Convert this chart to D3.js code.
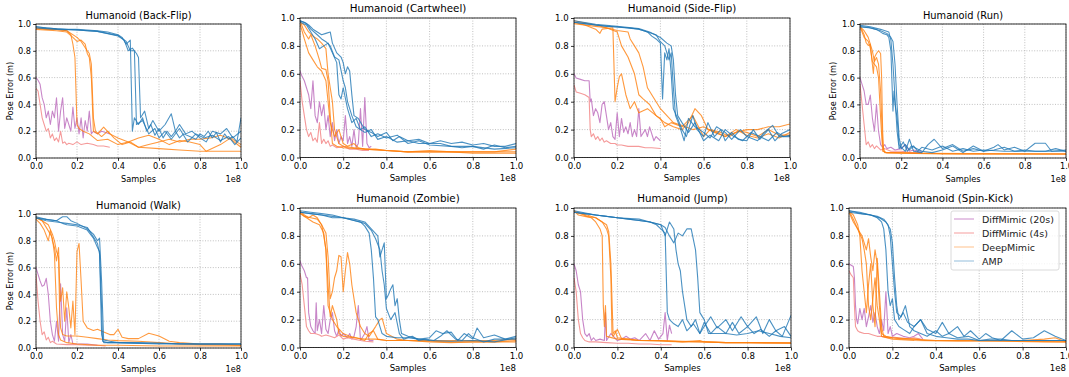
<!DOCTYPE html>
<html><head><meta charset="utf-8">
<script src="https://cdn.jsdelivr.net/npm/d3@7"></script>
<style>body{margin:0;background:#fff}svg{display:block}text{font-family:"DejaVu Sans",sans-serif}</style>
</head><body><svg id="c" width="1069" height="377"></svg>
<script>
const XTICKS=[0,0.2,0.4,0.6,0.8,1.0];
const YTICKS=[0,0.2,0.4,0.6,0.8,1.0];
const SERIES=["DiffMimic (20s)","DiffMimic (4s)","DeepMimic","AMP"];
const TITLES=["Humanoid (Back-Flip)","Humanoid (Cartwheel)","Humanoid (Side-Flip)","Humanoid (Run)","Humanoid (Walk)","Humanoid (Zombie)","Humanoid (Jump)","Humanoid (Spin-Kick)"];

// ---- Back-Flip ----
const BACKFLIP_DIFF20=[[0,.6],[.01,.58],[.02,.55],[.03,.45],[.04,.4],[.05,.3],[.06,.35],[.07,.25],[.08,.35],[.09,.3],[.1,.45],[.11,.2],[.12,.35],[.13,.45],[.14,.22],[.15,.3],[.16,.25],[.17,.2],[.18,.38],[.19,.22],[.2,.3],[.21,.18],[.22,.3],[.23,.15],[.24,.28],[.25,.2],[.26,.35],[.27,.18],[.28,.2],[.3,.18],[.32,.2],[.34,.19],[.36,.18]];
const BACKFLIP_DIFF4=[[0,.52],[.01,.5],[.02,.4],[.03,.3],[.04,.25],[.05,.2],[.06,.22],[.07,.15],[.08,.18],[.09,.13],[.1,.15],[.11,.12],[.12,.2],[.13,.11],[.14,.12],[.15,.1],[.16,.11],[.18,.1],[.2,.12],[.22,.1],[.25,.11],[.28,.1],[.3,.09],[.33,.09],[.36,.08]];
const BACKFLIP_DEEP=[
[[0,.97],[.05,.96],[.1,.96],[.15,.95],[.17,.92],[.18,.85],[.19,.75],[.2,.25],[.21,.22],[.23,.2],[.26,.18],[.3,.13],[.35,.14],[.4,.1],[.45,.12],[.5,.08],[.6,.07],[.7,.06],[.8,.05],[.9,.05],[1,.05]],
[[0,.96],[.1,.95],[.15,.94],[.18,.9],[.2,.87],[.22,.88],[.24,.85],[.25,.78],[.26,.75],[.27,.6],[.28,.2],[.3,.18],[.33,.23],[.36,.18],[.4,.15],[.45,.12],[.5,.15],[.55,.17],[.6,.14],[.65,.1],[.7,.13],[.75,.12],[.8,.1],[.83,.05],[.9,.1],[.95,.15],[1,.1]],
[[0,.97],[.1,.96],[.15,.95],[.2,.9],[.22,.87],[.25,.8],[.26,.78],[.27,.7],[.28,.3],[.29,.2],[.32,.16],[.35,.2],[.38,.15],[.42,.1],[.46,.12],[.5,.08],[.55,.1],[.6,.12],[.65,.14],[.7,.12],[.75,.14],[.8,.14],[.85,.15],[.9,.17],[.95,.14],[1,.08]]];
const BACKFLIP_AMP=[
[[0,.98],[.05,.97],[.1,.965],[.15,.96],[.2,.96],[.25,.955],[.3,.95],[.35,.94],[.4,.92],[.42,.9],[.44,.85],[.46,.88],[.47,.2],[.48,.3],[.5,.25],[.52,.3],[.54,.2],[.56,.25],[.58,.17],[.6,.22],[.62,.15],[.64,.2],[.66,.16],[.68,.2],[.7,.15],[.72,.18],[.75,.16],[.78,.14],[.8,.18],[.82,.16],[.84,.2],[.86,.15],[.88,.19],[.9,.12],[.92,.18],[.94,.14],[.96,.16],[.98,.12],[1,.3]],
[[0,.98],[.1,.965],[.2,.955],[.3,.945],[.4,.91],[.43,.88],[.45,.8],[.47,.82],[.49,.78],[.5,.75],[.51,.3],[.53,.35],[.55,.22],[.57,.28],[.6,.2],[.63,.25],[.66,.33],[.68,.2],[.7,.25],[.73,.18],[.76,.2],[.8,.15],[.83,.12],[.86,.2],[.9,.18],[.93,.22],[.96,.15],[1,.2]],
[[0,.97],[.1,.96],[.2,.955],[.3,.945],[.4,.915],[.44,.87],[.46,.8],[.48,.8],[.49,.25],[.52,.28],[.55,.18],[.58,.22],[.6,.15],[.63,.2],[.66,.14],[.7,.22],[.74,.12],[.78,.18],[.82,.15],[.86,.17],[.9,.13],[.94,.16],[.97,.1],[1,.15]]];

// ---- Cartwheel ----
const CARTWHEEL_DIFF20=[[0,.62],[.01,.58],[.02,.55],[.03,.5],[.04,.45],[.05,.35],[.06,.55],[.07,.3],[.08,.25],[.09,.4],[.1,.3],[.11,.38],[.12,.2],[.13,.3],[.14,.15],[.15,.25],[.16,.12],[.17,.2],[.18,.1],[.19,.15],[.2,.12],[.21,.3],[.22,.1],[.23,.15],[.24,.08],[.25,.2],[.26,.07],[.27,.1],[.28,.35],[.29,.08],[.3,.43],[.31,.1],[.32,.07],[.33,.08]];
const CARTWHEEL_DIFF4=[[0,.55],[.01,.4],[.02,.3],[.03,.2],[.04,.15],[.05,.18],[.06,.12],[.07,.14],[.08,.11],[.09,.25],[.1,.1],[.11,.13],[.12,.1],[.13,.12],[.14,.08],[.15,.09],[.17,.07],[.2,.08],[.23,.06],[.26,.06],[.29,.05],[.32,.05]];
const CARTWHEEL_DEEP=[
[[0,.98],[.02,.9],[.04,.85],[.05,.88],[.07,.8],[.09,.7],[.1,.64],[.12,.63],[.13,.55],[.14,.3],[.15,.1],[.17,.08],[.2,.07],[.3,.06],[.4,.05],[.5,.04],[.6,.04],[.7,.04],[.8,.03],[.9,.03],[1,.03]],
[[0,.97],[.02,.95],[.04,.9],[.06,.87],[.08,.85],[.1,.82],[.12,.78],[.13,.6],[.14,.5],[.15,.4],[.16,.2],[.18,.1],[.2,.08],[.25,.07],[.3,.06],[.4,.05],[.5,.04],[.6,.05],[.7,.04],[.8,.04],[1,.04]],
[[0,.96],[.02,.85],[.04,.75],[.06,.7],[.08,.65],[.1,.62],[.12,.55],[.13,.4],[.14,.25],[.16,.15],[.18,.2],[.2,.1],[.22,.08],[.25,.1],[.27,.07],[.3,.06],[.35,.06],[.4,.05],[.5,.04],[.6,.04],[.7,.04],[.8,.04],[.9,.04],[1,.06]]];
const CARTWHEEL_AMP=[
[[0,.98],[.02,.97],[.04,.95],[.06,.92],[.08,.9],[.1,.88],[.12,.89],[.14,.9],[.15,.82],[.17,.75],[.19,.72],[.2,.68],[.21,.6],[.22,.65],[.23,.62],[.24,.45],[.25,.3],[.27,.28],[.3,.2],[.33,.18],[.36,.15],[.4,.18],[.43,.12],[.46,.15],[.5,.12],[.55,.13],[.6,.1],[.65,.12],[.7,.1],[.75,.11],[.8,.09],[.85,.1],[.9,.08],[.95,.08],[1,.1]],
[[0,.97],[.03,.95],[.05,.9],[.07,.85],[.09,.78],[.11,.8],[.13,.82],[.15,.75],[.17,.68],[.18,.45],[.19,.42],[.2,.5],[.22,.35],[.24,.25],[.26,.28],[.28,.2],[.3,.22],[.33,.15],[.36,.17],[.4,.14],[.45,.16],[.5,.1],[.55,.12],[.6,.09],[.7,.08],[.8,.08],[.85,.06],[.9,.09],[.95,.07],[1,.08]],
[[0,.98],[.03,.96],[.05,.92],[.08,.88],[.1,.85],[.12,.83],[.14,.8],[.16,.72],[.18,.7],[.2,.55],[.21,.5],[.22,.4],[.24,.3],[.26,.22],[.28,.2],[.3,.18],[.33,.2],[.36,.13],[.4,.15],[.45,.11],[.5,.12],[.55,.1],[.6,.1],[.65,.1],[.7,.08],[.75,.07],[.8,.08],[.9,.06],[1,.07]]];

// ---- Side-Flip ----
const SIDEFLIP_DIFF20=[[0,.6],[.01,.57],[.03,.56],[.05,.55],[.07,.55],[.075,.4],[.08,.42],[.09,.3],[.1,.35],[.11,.32],[.12,.25],[.13,.38],[.14,.4],[.15,.3],[.16,.2],[.17,.25],[.18,.15],[.19,.13],[.2,.32],[.21,.15],[.22,.28],[.23,.18],[.24,.22],[.25,.17],[.26,.25],[.27,.15],[.28,.2],[.29,.15],[.3,.35],[.31,.15],[.33,.2],[.34,.15],[.35,.22],[.37,.12],[.38,.15],[.4,.12]];
const SIDEFLIP_DIFF4=[[0,.52],[.01,.47],[.03,.46],[.05,.45],[.07,.43],[.075,.2],[.08,.15],[.09,.17],[.1,.13],[.11,.15],[.12,.12],[.13,.14],[.14,.11],[.15,.12],[.17,.1],[.19,.1],[.2,.09],[.22,.09],[.25,.08],[.28,.08],[.3,.08],[.33,.07],[.36,.07],[.4,.065]];
const SIDEFLIP_DEEP=[
[[0,.97],[.05,.95],[.1,.92],[.12,.89],[.13,.92],[.18,.93],[.19,.4],[.2,.5],[.21,.58],[.22,.6],[.24,.45],[.26,.35],[.28,.4],[.3,.32],[.34,.35],[.38,.3],[.42,.25],[.46,.22],[.5,.2],[.53,.25],[.56,.35],[.59,.3],[.62,.2],[.66,.18],[.7,.15],[.75,.18],[.8,.2],[.85,.2],[.9,.22],[.95,.22],[1,.24]],
[[0,.96],[.1,.94],[.15,.93],[.2,.9],[.22,.8],[.25,.72],[.28,.6],[.3,.45],[.32,.42],[.35,.38],[.38,.3],[.4,.28],[.42,.22],[.45,.25],[.5,.22],[.55,.3],[.6,.15],[.63,.2],[.68,.18],[.72,.15],[.76,.19],[.8,.18],[.85,.15],[.9,.2],[.95,.16],[1,.16]],
[[0,.98],[.1,.95],[.15,.93],[.2,.91],[.25,.9],[.26,.85],[.28,.8],[.3,.75],[.32,.65],[.34,.5],[.36,.45],[.38,.4],[.4,.35],[.43,.3],[.46,.25],[.5,.23],[.55,.2],[.6,.22],[.65,.18],[.7,.15],[.75,.2],[.8,.16],[.85,.14],[.9,.17],[.95,.14],[1,.18]]];
const SIDEFLIP_AMP=[
[[0,.97],[.05,.96],[.1,.95],[.15,.94],[.2,.935],[.25,.93],[.3,.92],[.32,.91],[.34,.9],[.36,.87],[.38,.85],[.4,.82],[.41,.42],[.42,.75],[.43,.7],[.44,.78],[.45,.6],[.46,.35],[.48,.28],[.5,.2],[.52,.15],[.55,.3],[.57,.2],[.6,.15],[.62,.25],[.65,.15],[.68,.2],[.7,.12],[.73,.18],[.76,.13],[.8,.12],[.83,.2],[.86,.13],[.9,.2],[.93,.12],[.96,.17],[1,.2]],
[[0,.97],[.1,.95],[.2,.935],[.3,.92],[.34,.9],[.38,.88],[.4,.83],[.42,.8],[.44,.7],[.45,.75],[.46,.5],[.47,.3],[.49,.22],[.51,.12],[.53,.28],[.56,.22],[.6,.18],[.63,.14],[.66,.22],[.7,.18],[.73,.13],[.77,.2],[.8,.15],[.85,.12],[.88,.18],[.92,.23],[.95,.15],[1,.15]],
[[0,.98],[.1,.955],[.2,.94],[.3,.925],[.35,.9],[.4,.86],[.43,.82],[.45,.8],[.46,.7],[.47,.45],[.48,.3],[.5,.25],[.53,.18],[.56,.25],[.6,.12],[.63,.16],[.67,.12],[.7,.2],[.74,.15],[.78,.12],[.82,.18],[.86,.15],[.9,.12],[.94,.18],[.97,.15],[1,.16]]];

// ---- Run ----
const RUN_DIFF20=[[0,.6],[.01,.55],[.02,.5],[.03,.4],[.04,.4],[.05,.47],[.06,.3],[.07,.2],[.08,.4],[.09,.2],[.1,.1],[.11,.08],[.12,.1],[.13,.07],[.15,.08],[.17,.06],[.2,.07],[.22,.1],[.24,.05],[.26,.06],[.28,.05],[.3,.05]];
const RUN_DIFF4=[[0,.55],[.01,.4],[.02,.25],[.03,.1],[.04,.12],[.05,.08],[.06,.1],[.07,.07],[.08,.09],[.1,.06],[.12,.07],[.15,.05],[.18,.05],[.2,.05],[.25,.04],[.3,.04]];
const RUN_DEEP=[
[[0,.99],[.02,.92],[.03,.86],[.04,.84],[.05,.85],[.06,.7],[.065,.63],[.07,.75],[.08,.78],[.09,.8],[.1,.78],[.105,.6],[.11,.2],[.115,.05],[.13,.04],[.2,.04],[.3,.035],[.5,.03],[.7,.03],[1,.03]],
[[0,.98],[.02,.95],[.04,.9],[.06,.8],[.07,.72],[.08,.75],[.09,.7],[.1,.5],[.11,.1],[.12,.04],[.2,.035],[.4,.03],[1,.03]],
[[0,.98],[.02,.9],[.04,.87],[.05,.82],[.06,.72],[.07,.7],[.08,.68],[.09,.6],[.1,.3],[.11,.05],[.13,.04],[.3,.035],[1,.03]]];
const RUN_AMP=[
[[0,.98],[.04,.975],[.08,.96],[.11,.93],[.13,.92],[.14,.9],[.15,.8],[.16,.35],[.165,.5],[.17,.4],[.18,.3],[.19,.1],[.2,.07],[.22,.1],[.24,.06],[.26,.09],[.28,.05],[.3,.08],[.35,.06],[.4,.09],[.45,.05],[.5,.07],[.55,.05],[.6,.06],[.7,.05],[.8,.05],[.9,.05],[1,.05]],
[[0,.98],[.05,.97],[.1,.95],[.13,.93],[.15,.9],[.16,.87],[.17,.7],[.18,.4],[.19,.15],[.2,.08],[.22,.05],[.24,.14],[.26,.05],[.3,.04],[.33,.1],[.36,.14],[.4,.07],[.45,.1],[.5,.05],[.55,.07],[.6,.05],[.65,.08],[.67,.1],[.7,.06],[.75,.08],[.8,.05],[.85,.11],[.9,.11],[.93,.05],[1,.06]],
[[0,.99],[.05,.98],[.1,.96],[.14,.94],[.15,.88],[.16,.7],[.17,.45],[.18,.2],[.19,.07],[.21,.12],[.23,.05],[.25,.09],[.3,.05],[.35,.04],[.4,.06],[.45,.09],[.5,.04],[.55,.09],[.6,.05],[.65,.06],[.7,.08],[.75,.05],[.8,.06],[.85,.05],[.9,.05],[.95,.07],[1,.05]]];

// ---- Walk ----
const WALK_DIFF20=[[0,.6],[.01,.55],[.02,.5],[.03,.46],[.04,.47],[.05,.52],[.06,.4],[.07,.2],[.08,.1],[.09,.05],[.1,.2],[.11,.05],[.12,.48],[.13,.1],[.14,.05],[.15,.3],[.16,.04],[.17,.1],[.18,.03],[.2,.03],[.25,.03],[.3,.02]];
const WALK_DIFF4=[[0,.55],[.01,.35],[.02,.2],[.03,.1],[.04,.12],[.05,.06],[.06,.08],[.07,.04],[.08,.05],[.1,.03],[.15,.025],[.2,.025],[.25,.02],[.3,.02],[.34,.015]];
const WALK_DEEP=[
[[0,.97],[.03,.95],[.06,.92],[.08,.85],[.09,.8],[.1,.72],[.11,.68],[.115,.3],[.12,.15],[.13,.1],[.15,.09],[.2,.09],[.25,.08],[.3,.07],[.35,.06],[.4,.055],[.5,.05],[.6,.04],[.7,.03],[.8,.025],[1,.02]],
[[0,.96],[.02,.93],[.04,.88],[.06,.8],[.07,.88],[.08,.8],[.09,.75],[.1,.65],[.11,.75],[.115,.5],[.12,.35],[.13,.45],[.14,.2],[.15,.42],[.16,.3],[.17,.15],[.18,.35],[.19,.1],[.2,.72],[.21,.78],[.22,.5],[.23,.2],[.25,.15],[.28,.13],[.3,.14],[.33,.12],[.36,.1],[.38,.1],[.4,.14],[.42,.08],[.45,.07],[.5,.07],[.55,.11],[.6,.09],[.65,.05],[.7,.04],[.8,.03],[.9,.03],[1,.02]],
[[0,.98],[.03,.95],[.05,.9],[.07,.85],[.08,.82],[.09,.7],[.1,.3],[.11,.1],[.12,.06],[.15,.04],[.2,.03],[.3,.02],[.4,.02],[.6,.015],[1,.015]]];
const WALK_AMP=[
[[0,.97],[.05,.96],[.1,.95],[.13,.93],[.15,.92],[.2,.91],[.25,.88],[.28,.82],[.3,.75],[.31,.72],[.32,.3],[.325,.05],[.35,.04],[.4,.04],[.5,.035],[.6,.035],[.7,.03],[.8,.03],[.9,.03],[1,.03]],
[[0,.98],[.05,.96],[.1,.95],[.12,.97],[.13,.98],[.15,.98],[.17,.95],[.2,.93],[.25,.89],[.28,.85],[.3,.8],[.31,.82],[.32,.5],[.33,.06],[.36,.05],[.4,.04],[.5,.04],[.6,.035],[.8,.03],[1,.03]],
[[0,.97],[.05,.95],[.1,.94],[.15,.93],[.2,.92],[.25,.9],[.3,.78],[.31,.7],[.32,.1],[.33,.04],[.4,.04],[.6,.03],[1,.03]]];

// ---- Zombie ----
const ZOMBIE_DIFF20=[[0,.62],[.01,.58],[.02,.55],[.03,.5],[.035,.5],[.04,.25],[.05,.15],[.06,.12],[.07,.1],[.075,.32],[.08,.12],[.09,.2],[.1,.1],[.11,.3],[.12,.13],[.13,.1],[.14,.2],[.15,.25],[.16,.12],[.17,.08],[.18,.13],[.19,.08],[.2,.1],[.22,.07],[.23,.1],[.24,.06],[.25,.08],[.26,.15],[.27,.3],[.28,.05],[.3,.1],[.31,.15],[.32,.05],[.34,.05]];
const ZOMBIE_DIFF4=[[0,.53],[.01,.45],[.02,.3],[.03,.15],[.04,.12],[.05,.1],[.07,.1],[.09,.09],[.1,.08],[.12,.09],[.14,.08],[.16,.07],[.18,.09],[.2,.06],[.22,.07],[.25,.06],[.28,.05],[.3,.045],[.34,.04]];
const ZOMBIE_DEEP=[
[[0,.98],[.02,.95],[.04,.93],[.06,.95],[.08,.93],[.1,.88],[.11,.8],[.12,.7],[.13,.45],[.14,.22],[.15,.3],[.16,.25],[.17,.2],[.18,.1],[.2,.08],[.25,.07],[.3,.06],[.35,.06],[.4,.05],[.5,.05],[.6,.045],[.7,.04],[.8,.04],[.9,.04],[1,.05]],
[[0,.97],[.02,.94],[.05,.93],[.08,.92],[.1,.88],[.12,.82],[.13,.65],[.14,.35],[.15,.4],[.16,.5],[.17,.55],[.18,.66],[.19,.65],[.2,.4],[.21,.55],[.22,.68],[.23,.6],[.24,.45],[.26,.25],[.28,.15],[.3,.1],[.32,.08],[.35,.15],[.37,.2],[.38,.21],[.4,.1],[.45,.06],[.5,.05],[.6,.04],[.7,.035],[.8,.04],[.9,.04],[1,.04]],
[[0,.96],[.03,.93],[.06,.9],[.09,.88],[.11,.82],[.12,.7],[.13,.3],[.14,.25],[.15,.2],[.17,.15],[.2,.1],[.23,.08],[.26,.07],[.3,.05],[.32,.1],[.34,.12],[.36,.06],[.4,.05],[.5,.05],[.6,.05],[.7,.05],[.8,.05],[.9,.05],[1,.06]]];
const ZOMBIE_AMP=[
[[0,.97],[.05,.96],[.1,.95],[.15,.94],[.2,.93],[.25,.91],[.28,.9],[.3,.87],[.32,.82],[.33,.7],[.34,.5],[.35,.22],[.36,.2],[.38,.1],[.4,.08],[.45,.07],[.5,.07],[.55,.06],[.6,.05],[.7,.045],[.8,.05],[.9,.04],[1,.07]],
[[0,.98],[.05,.97],[.1,.96],[.15,.95],[.2,.93],[.25,.92],[.3,.9],[.33,.85],[.36,.8],[.37,.65],[.38,.7],[.39,.75],[.4,.35],[.41,.38],[.42,.42],[.43,.45],[.44,.3],[.45,.35],[.46,.2],[.47,.1],[.5,.08],[.55,.06],[.6,.07],[.63,.12],[.66,.1],[.7,.11],[.73,.05],[.76,.1],[.8,.06],[.82,.14],[.85,.07],[.9,.09],[.95,.06],[1,.08]],
[[0,.97],[.05,.96],[.1,.95],[.15,.93],[.2,.93],[.25,.91],[.3,.89],[.33,.84],[.35,.78],[.37,.7],[.38,.55],[.39,.45],[.4,.28],[.42,.2],[.44,.25],[.46,.1],[.48,.06],[.52,.08],[.55,.05],[.58,.06],[.62,.05],[.65,.08],[.68,.12],[.72,.06],[.75,.05],[.78,.1],[.8,.07],[.85,.04],[.9,.06],[1,.06]]];

// ---- Jump ----
const JUMP_DIFF20=[[0,.6],[.01,.55],[.02,.45],[.03,.4],[.04,.2],[.05,.1],[.06,.08],[.07,.1],[.08,.05],[.09,.07],[.1,.05],[.12,.06],[.14,.05],[.145,.25],[.15,.05],[.17,.1],[.2,.05],[.22,.06],[.24,.08],[.26,.06],[.28,.07],[.3,.05],[.33,.1],[.35,.05],[.37,.12],[.39,.06],[.41,.1],[.42,.25],[.43,.05],[.44,.16],[.45,.1]];
const JUMP_DIFF4=[[0,.5],[.01,.4],[.02,.2],[.03,.1],[.04,.07],[.05,.05],[.07,.04],[.1,.04],[.15,.035],[.2,.03],[.25,.03],[.3,.025],[.35,.025],[.4,.02],[.45,.02]];
const JUMP_DEEP=[
[[0,.98],[.02,.95],[.05,.94],[.08,.93],[.1,.9],[.12,.85],[.13,.8],[.135,.3],[.14,.15],[.145,.3],[.15,.08],[.2,.06],[.3,.05],[.4,.045],[.5,.04],[.6,.04],[.7,.035],[.8,.035],[1,.03]],
[[0,.97],[.03,.96],[.06,.95],[.1,.93],[.13,.9],[.15,.85],[.16,.8],[.17,.5],[.175,.1],[.18,.08],[.2,.13],[.22,.06],[.25,.06],[.3,.05],[.4,.05],[.5,.04],[.58,.05],[.6,.04],[.7,.035],[.8,.035],[1,.03]],
[[0,.98],[.03,.96],[.06,.94],[.1,.93],[.13,.9],[.15,.88],[.16,.83],[.17,.6],[.18,.1],[.19,.12],[.2,.07],[.25,.06],[.3,.05],[.4,.05],[.5,.045],[.6,.04],[.7,.035],[.8,.035],[1,.035]]];
const JUMP_AMP=[
[[0,.97],[.05,.96],[.1,.95],[.15,.94],[.2,.93],[.25,.92],[.3,.91],[.35,.9],[.38,.88],[.4,.85],[.42,.82],[.43,.25],[.44,.2],[.46,.17],[.48,.15],[.5,.2],[.52,.12],[.55,.17],[.58,.1],[.6,.18],[.63,.1],[.66,.15],[.7,.1],[.73,.18],[.76,.1],[.8,.15],[.83,.1],[.86,.13],[.9,.08],[.93,.12],[.96,.08],[1,.23]],
[[0,.97],[.05,.96],[.1,.95],[.2,.93],[.3,.91],[.35,.9],[.4,.88],[.42,.8],[.44,.9],[.46,.85],[.47,.7],[.48,.6],[.49,.55],[.5,.4],[.51,.3],[.52,.2],[.54,.15],[.56,.2],[.58,.1],[.6,.15],[.63,.22],[.66,.14],[.7,.2],[.73,.12],[.77,.22],[.8,.15],[.84,.22],[.87,.1],[.9,.2],[.93,.12],[.97,.15],[1,.08]],
[[0,.98],[.1,.95],[.2,.93],[.3,.92],[.35,.9],[.4,.88],[.42,.86],[.44,.8],[.46,.75],[.48,.82],[.5,.8],[.52,.85],[.54,.85],[.56,.7],[.57,.5],[.58,.25],[.6,.2],[.62,.1],[.65,.1],[.7,.1],[.75,.09],[.8,.1],[.85,.12],[.9,.1],[.95,.08],[1,.07]]];

// ---- Spin-Kick ----
const SPINKICK_DIFF20=[[0,.6],[.01,.59],[.02,.58],[.025,.5],[.03,.3],[.035,.2],[.04,.17],[.05,.28],[.06,.2],[.07,.28],[.08,.15],[.09,.22],[.1,.3],[.11,.18],[.12,.25],[.13,.15],[.14,.1],[.15,.2],[.16,.12],[.17,.4],[.18,.1],[.19,.15],[.2,.08],[.22,.1],[.25,.08],[.28,.07],[.3,.08],[.32,.1],[.34,.06]];
const SPINKICK_DIFF4=[[0,.55],[.01,.52],[.02,.5],[.025,.3],[.03,.15],[.04,.12],[.05,.11],[.07,.1],[.09,.1],[.11,.09],[.13,.08],[.15,.08],[.18,.07],[.2,.075],[.23,.07],[.26,.065],[.3,.07],[.33,.06]];
const SPINKICK_DEEP=[
[[0,.98],[.02,.92],[.04,.85],[.06,.78],[.07,.7],[.08,.6],[.09,.3],[.1,.2],[.11,.35],[.12,.5],[.13,.3],[.14,.2],[.15,.08],[.2,.06],[.3,.05],[.5,.045],[.7,.045],[.9,.04],[1,.04]],
[[0,.97],[.02,.9],[.04,.85],[.06,.8],[.08,.7],[.09,.78],[.1,.65],[.11,.55],[.12,.7],[.13,.6],[.14,.3],[.15,.1],[.17,.08],[.2,.07],[.25,.06],[.3,.06],[.35,.05],[.4,.05],[.5,.05],[.6,.05],[.7,.05],[.8,.05],[.9,.06],[.95,.07],[1,.04]],
[[0,.98],[.02,.95],[.04,.88],[.05,.8],[.06,.55],[.07,.4],[.08,.25],[.09,.45],[.1,.6],[.11,.3],[.12,.15],[.13,.64],[.14,.4],[.15,.15],[.16,.08],[.2,.07],[.3,.06],[.4,.05],[.6,.05],[.8,.045],[1,.04]]];
const SPINKICK_AMP=[
[[0,.98],[.03,.97],[.06,.96],[.1,.95],[.13,.93],[.15,.9],[.16,.85],[.17,.7],[.18,.4],[.19,.3],[.2,.35],[.21,.2],[.23,.15],[.25,.13],[.28,.1],[.3,.15],[.33,.2],[.36,.13],[.4,.1],[.43,.18],[.46,.1],[.5,.15],[.53,.08],[.56,.12],[.6,.06],[.63,.1],[.66,.07],[.7,.05],[.75,.12],[.8,.06],[.85,.07],[.9,.12],[.95,.08],[1,.05]],
[[0,.98],[.05,.97],[.1,.95],[.13,.94],[.16,.92],[.18,.88],[.19,.8],[.2,.6],[.21,.4],[.22,.25],[.24,.22],[.26,.3],[.28,.15],[.3,.12],[.33,.1],[.36,.08],[.4,.12],[.43,.08],[.46,.1],[.5,.07],[.55,.08],[.6,.05],[.65,.06],[.7,.06],[.75,.05],[.8,.05],[.85,.05],[.9,.05],[.95,.05],[1,.05]],
[[0,.97],[.05,.96],[.1,.95],[.14,.93],[.17,.9],[.19,.85],[.2,.75],[.21,.5],[.22,.3],[.23,.2],[.25,.25],[.27,.18],[.3,.15],[.33,.2],[.36,.1],[.4,.08],[.45,.07],[.5,.06],[.55,.06],[.6,.05],[.7,.05],[.8,.05],[.9,.05],[1,.05]]];

const PANEL_DATA=[
 [BACKFLIP_DIFF20,BACKFLIP_DIFF4,BACKFLIP_DEEP,BACKFLIP_AMP],
 [CARTWHEEL_DIFF20,CARTWHEEL_DIFF4,CARTWHEEL_DEEP,CARTWHEEL_AMP],
 [SIDEFLIP_DIFF20,SIDEFLIP_DIFF4,SIDEFLIP_DEEP,SIDEFLIP_AMP],
 [RUN_DIFF20,RUN_DIFF4,RUN_DEEP,RUN_AMP],
 [WALK_DIFF20,WALK_DIFF4,WALK_DEEP,WALK_AMP],
 [ZOMBIE_DIFF20,ZOMBIE_DIFF4,ZOMBIE_DEEP,ZOMBIE_AMP],
 [JUMP_DIFF20,JUMP_DIFF4,JUMP_DEEP,JUMP_AMP],
 [SPINKICK_DIFF20,SPINKICK_DIFF4,SPINKICK_DEEP,SPINKICK_AMP]];

// layout (pixels): [left, top, right, bottom], per-panel scale (px per pt)
const BOX=[[36,24,241,158],[300,18,516,157.5],[574,18,790,157.5],[860,24,1066,158],
           [36,214,241,348],[300,208,516,347.5],[574,208,791,347.5],[849,208,1066,347.5]];
const K=[0.82,0.86,0.86,0.82,0.82,0.86,0.86,0.86];
const YLABEL=[9.5,null,null,833,9.5,null,null,null];
const COLORS=["#c886c8","#f59a9a","#ff7f0e","#1f77b4"];
const ALPHA=[1,1,0.8,0.8];

const svg=d3.select("#c");
const defs=svg.append("defs");
const fmt=d3.format(".1f");

PANEL_DATA.forEach((pd,i)=>{
  const [l,t,r,b]=BOX[i];
  const k=K[i];
  const x=d3.scaleLinear().domain([0,1]).range([l,r]);
  const y=d3.scaleLinear().domain([0,1]).range([b,t]);
  const g=svg.append("g");
  defs.append("clipPath").attr("id","cl"+i).append("rect").attr("x",l).attr("y",t).attr("width",r-l).attr("height",b-t);
  g.append("g").selectAll("line").data(XTICKS).join("line")
   .attr("x1",d=>x(d)).attr("x2",d=>x(d)).attr("y1",t).attr("y2",b)
   .attr("stroke","#b0b0b0").attr("stroke-width",0.8).attr("stroke-dasharray","1,1.6");
  g.append("g").selectAll("line").data(YTICKS).join("line")
   .attr("y1",d=>y(d)).attr("y2",d=>y(d)).attr("x1",l).attr("x2",r)
   .attr("stroke","#b0b0b0").attr("stroke-width",0.8).attr("stroke-dasharray","1,1.6");
  const line=d3.line().x(d=>x(d[0])).y(d=>y(d[1]));
  const lg=g.append("g").attr("clip-path","url(#cl"+i+")");
  pd.forEach((s,j)=>{
    const runs=Array.isArray(s[0][0])?s:[s];
    runs.forEach(run=>{
      lg.append("path").attr("d",line(run)).attr("fill","none")
        .attr("stroke",COLORS[j]).attr("stroke-opacity",ALPHA[j])
        .attr("stroke-width",1.3*k).attr("stroke-linejoin","round");
    });
  });
  const ts=3.5*k, tp=3.5*k-0.8;
  const ax=g.append("g").attr("transform",`translate(0,${b})`)
    .call(d3.axisBottom(x).tickValues(XTICKS).tickFormat(fmt).tickSize(ts).tickPadding(tp));
  const ay=g.append("g").attr("transform",`translate(${l},0)`)
    .call(d3.axisLeft(y).tickValues(YTICKS).tickFormat(fmt).tickSize(ts).tickPadding(tp));
  [ax,ay].forEach(a=>{
    a.select(".domain").remove();
    a.selectAll("line").attr("stroke","#000").attr("stroke-width",0.8);
    a.selectAll("text").attr("font-size",10*k).attr("fill","#000").attr("font-family","DejaVu Sans");
  });
  g.append("rect").attr("x",l).attr("y",t).attr("width",r-l).attr("height",b-t)
   .attr("fill","none").attr("stroke","#000").attr("stroke-width",0.8);
  g.append("text").attr("x",(l+r)/2).attr("y",t-(k>0.84?6:4.8)).attr("text-anchor","middle")
   .attr("font-size",12*k).text(TITLES[i]);
  g.append("text").attr("x",(l+r)/2).attr("y",b+23.5).attr("text-anchor","middle")
   .attr("font-size",10*k).text("Samples");
  g.append("text").attr("x",r).attr("y",b+23.5).attr("text-anchor","end")
   .attr("font-size",10*k).text("1e8");
  if(YLABEL[i]!==null){
    g.append("text").attr("transform",`translate(${YLABEL[i]},${(t+b)/2}) rotate(-90)`)
     .attr("text-anchor","middle").attr("dominant-baseline","central")
     .attr("font-size",10*k).text("Pose Error (m)");
  }
  if(i===7){
    const lx=951, ly=211;
    const lgd=g.append("g");
    lgd.append("rect").attr("x",lx).attr("y",ly).attr("width",108).attr("height",59).attr("rx",2)
      .attr("fill","#fff").attr("fill-opacity",0.8).attr("stroke","#d0d0d0").attr("stroke-width",0.8);
    SERIES.forEach((name,j)=>{
      const yy=ly+8+j*14;
      lgd.append("line").attr("x1",lx+3).attr("x2",lx+23).attr("y1",yy).attr("y2",yy)
        .attr("stroke",COLORS[j]).attr("stroke-opacity",j<2?0.8:0.4).attr("stroke-width",1.2);
      lgd.append("text").attr("x",lx+31).attr("y",yy).attr("dominant-baseline","central")
        .attr("font-size",9.5).attr("fill","#222").text(name);
    });
  }
});
</script></body></html>
